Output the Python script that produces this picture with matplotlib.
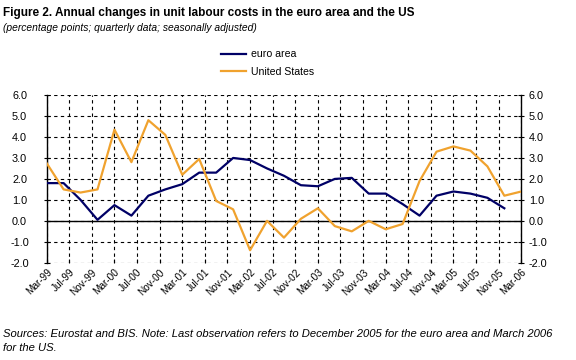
import matplotlib
matplotlib.use("Agg")
import matplotlib.pyplot as plt
import numpy as np

plt.rcParams['font.family'] = ['Liberation Sans', 'DejaVu Sans']

# Quarterly observations (months since Mar-99 = quarter index * 3)
euro_area = [1.8, 1.8, 1.0, 0.05, 0.75, 0.25, 1.2, 1.5, 1.75, 2.3, 2.3, 3.0, 2.9, 2.5,
             2.15, 1.7, 1.65, 2.0, 2.05, 1.3, 1.3, 0.8, 0.25, 1.2, 1.4, 1.3, 1.1, 0.6]
united_states = [2.75, 1.5, 1.35, 1.5, 4.35, 2.8, 4.8, 4.1, 2.2, 2.95, 0.95, 0.55, -1.4, 0.0,
                 -0.8, 0.1, 0.6, -0.25, -0.5, 0.0, -0.4, -0.15, 1.9, 3.3, 3.55, 3.35, 2.6, 1.2, 1.4]
tick_labels = ["Mar-99", "Jul-99", "Nov-99", "Mar-00", "Jul-00", "Nov-00", "Mar-01", "Jul-01",
               "Nov-01", "Mar-02", "Jul-02", "Nov-02", "Mar-03", "Jul-03", "Nov-03", "Mar-04",
               "Jul-04", "Nov-04", "Mar-05", "Jul-05", "Nov-05", "Mar-06"]
y_ticks = [-2, -1, 0, 1, 2, 3, 4, 5, 6]

MONTHS_PER_QUARTER = 3
MONTHS_PER_LABEL = 4

x_eu = np.arange(len(euro_area)) * MONTHS_PER_QUARTER
x_us = np.arange(len(united_states)) * MONTHS_PER_QUARTER
x_ticks = np.arange(len(tick_labels)) * MONTHS_PER_LABEL

fig = plt.figure(figsize=(5.76, 3.6), dpi=100)
ax = fig.add_axes([0.081, 0.270, 0.824, 0.466])

l1, = ax.plot(x_eu, euro_area, color='#000066', lw=1.6, label='euro area', zorder=3)
l2, = ax.plot(x_us, united_states, color='#F0A22E', lw=1.6, label='United States', zorder=3)

ax.set_xlim(x_ticks[0], x_ticks[-1])
ax.set_ylim(-2, 6)
ax.set_yticks(y_ticks)
ax.set_yticklabels([f"{v:.1f}" for v in y_ticks], fontsize=7.8)
for lbl in ax.get_yticklabels():
    lbl.set_horizontalalignment('center')
ax.set_xticks(x_ticks)
ax.set_xticklabels(tick_labels, rotation=45, ha='right', rotation_mode='anchor', fontsize=7.2)

ax.grid(True, color='black', linestyle=(0, (3, 3)), linewidth=0.8)
ax.axhline(0, color='black', lw=1.0, zorder=2)

for s in ['top', 'bottom']:
    ax.spines[s].set_visible(False)
for s in ['left', 'right']:
    ax.spines[s].set_linewidth(1.0)

ax.tick_params(axis='y', left=True, right=True, labelleft=True, labelright=False,
               direction='inout', length=5, pad=17)
ax.tick_params(axis='x', direction='in', length=3, pad=3)

# Right-hand value labels, close to the axis
ax2 = ax.twinx()
ax2.set_ylim(ax.get_ylim())
ax2.set_yticks(y_ticks)
ax2.set_yticklabels([f"{v:.1f}" for v in y_ticks], fontsize=7.8)
ax2.tick_params(axis='y', direction='inout', length=5, pad=3)
for s in ax2.spines.values():
    s.set_visible(False)

fig.legend(handles=[l1, l2], loc='upper left', bbox_to_anchor=(0.375, 0.878),
           frameon=False, fontsize=7.6, handlelength=2.3, handletextpad=0.5,
           labelspacing=0.75, borderpad=0)

fig.text(0.006, 0.965, "Figure 2. Annual changes in unit labour costs in the euro area and the US",
         fontsize=8.5, fontweight='bold', va='center', ha='left')
fig.text(0.006, 0.923, "(percentage points; quarterly data; seasonally adjusted)",
         fontsize=7.4, style='italic', va='center', ha='left')
fig.text(0.006, 0.053,
         "Sources: Eurostat and BIS. Note: Last observation refers to December 2005 for the euro area and March 2006\nfor the US.",
         fontsize=8.1, style='italic', va='center', ha='left', linespacing=1.4)

fig.savefig("out.png", dpi=100)
